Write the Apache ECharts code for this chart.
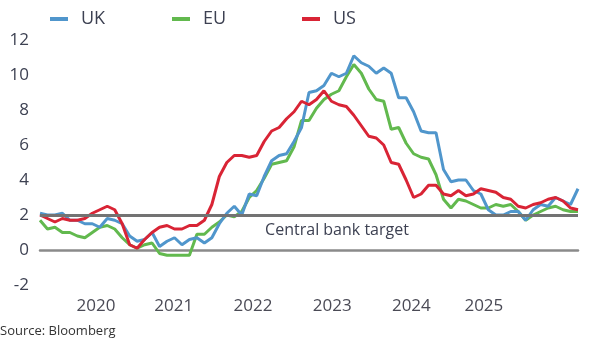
<!DOCTYPE html>
<html>
<head>
<meta charset="utf-8">
<script src="https://cdn.jsdelivr.net/npm/echarts@6/dist/echarts.min.js"></script>
<style>
html,body{margin:0;padding:0;background:#fff;}
#chart{width:592px;height:351px;}
</style>
</head>
<body>
<div id="chart"></div>
<script>
// Monthly, Apr 2019 - Apr 2025
const months = [];
(function(){ let y=2019, m=4; for(let i=0;i<73;i++){ months.push(y+'-'+String(m).padStart(2,'0')); m++; if(m>12){m=1;y++;} } })();

const ukValues = [
  2.1,2.0,2.0,2.1,1.7,1.7,1.5,1.5,1.3,
  1.8,1.7,1.5,0.8,0.5,0.6,1.0,0.2,0.5,0.7,0.3,0.6,
  0.7,0.4,0.7,1.5,2.1,2.5,2.0,3.2,3.1,4.2,5.1,5.4,
  5.5,6.2,7.0,9.0,9.1,9.4,10.1,9.9,10.1,11.1,10.7,10.5,
  10.1,10.4,10.1,8.7,8.7,7.9,6.8,6.7,6.7,4.6,3.9,4.0,
  4.0,3.4,3.2,2.3,2.0,2.0,2.2,2.2,1.7,2.3,2.6,2.5,
  3.0,2.8,2.6,3.5
];
const euValues = [
  1.7,1.2,1.3,1.0,1.0,0.8,0.7,1.0,1.3,
  1.4,1.2,0.7,0.3,0.1,0.3,0.4,-0.2,-0.3,-0.3,-0.3,-0.3,
  0.9,0.9,1.3,1.6,2.0,1.9,2.2,3.0,3.4,4.1,4.9,5.0,
  5.1,5.9,7.4,7.4,8.1,8.6,8.9,9.1,9.9,10.6,10.1,9.2,
  8.6,8.5,6.9,7.0,6.1,5.5,5.3,5.2,4.3,2.9,2.4,2.9,
  2.8,2.6,2.4,2.4,2.6,2.5,2.6,2.2,1.7,2.0,2.2,2.4,
  2.5,2.3,2.2,2.2
];
const usValues = [
  2.0,1.8,1.6,1.8,1.7,1.7,1.8,2.1,2.3,
  2.5,2.3,1.5,0.3,0.1,0.6,1.0,1.3,1.4,1.2,1.2,1.4,
  1.4,1.7,2.6,4.2,5.0,5.4,5.4,5.3,5.4,6.2,6.8,7.0,
  7.5,7.9,8.5,8.3,8.6,9.1,8.5,8.3,8.2,7.7,7.1,6.5,
  6.4,6.0,5.0,4.9,4.0,3.0,3.2,3.7,3.7,3.2,3.1,3.4,
  3.1,3.2,3.5,3.4,3.3,3.0,2.9,2.5,2.4,2.6,2.7,2.9,
  3.0,2.8,2.4,2.3
];
const seriesNames = ['UK','EU','US'];
const yearLabels = ['2020','2021','2022','2023','2024','2025'];
const yearLabelAt = [7.5, 17.9, 28.5, 39.1, 49.7, 59.4]; // month index where each label sits
const targetValue = 2;
const targetLabel = 'Central bank target';
const sourceText = 'Source: Bloomberg';

const colors = ['#5096cc','#62b94e','#d92435'];
const font = '"Open Sans", "Noto Sans", sans-serif';
const txt = '#3d4152';

const chart = echarts.init(document.getElementById('chart'), null, {renderer:'canvas'});
const legendPos = [45, 167, 297];
chart.setOption({
  animation:false,
  color: colors,
  textStyle:{fontFamily:font},
  grid:{left:40, right:14, top:40, bottom:66, containLabel:false},
  legend: seriesNames.map((n,i)=>({
    data:[n], left:legendPos[i], top:5, icon:'rect', itemWidth:18, itemHeight:4, itemGap:0,
    textStyle:{fontSize:18, color:txt, fontFamily:font, padding:[0,0,0,8]}
  })),
  xAxis:[
    {type:'category', data:months, boundaryGap:false,
     axisLine:{show:true, onZero:true, lineStyle:{color:'#8a8a8a', width:2.5}},
     axisTick:{show:false}, axisLabel:{show:false}, splitLine:{show:false}},
    {type:'value', min:0, max:months.length-1, position:'bottom',
     axisLine:{show:false}, axisTick:{show:false}, splitLine:{show:false},
     axisLabel:{show:true, customValues:yearLabelAt, margin:13, fontSize:17, color:'#4a4a55', fontFamily:font,
       formatter:(v)=>{ const k=yearLabelAt.findIndex(p=>Math.abs(p-v)<1e-6); return k>=0?yearLabels[k]:''; }}}
  ],
  yAxis:{type:'value', min:-2, max:12, interval:2,
    axisLine:{show:false}, axisTick:{show:false}, splitLine:{show:false},
    axisLabel:{fontSize:17, color:txt, margin:11, fontFamily:font}},
  series:[
    {name:'UK', type:'line', data:ukValues, symbol:'none', lineStyle:{width:3}, z:3,
     markLine:{silent:true, symbol:'none', data:[{yAxis:targetValue}],
       lineStyle:{color:'#737373', width:3, type:'solid'},
       label:{show:true, position:'insideMiddleBottom', formatter:targetLabel, fontSize:16, color:txt, fontFamily:font, offset:[28,2]}}},
    {name:'EU', type:'line', data:euValues, symbol:'none', lineStyle:{width:3}, z:2},
    {name:'US', type:'line', data:usValues, symbol:'none', lineStyle:{width:3}, z:4}
  ],
  graphic:[{type:'text', left:0, top:325, style:{text:sourceText, fontSize:13, fill:'#333', fontFamily:font}}]
});
</script>
</body>
</html>
